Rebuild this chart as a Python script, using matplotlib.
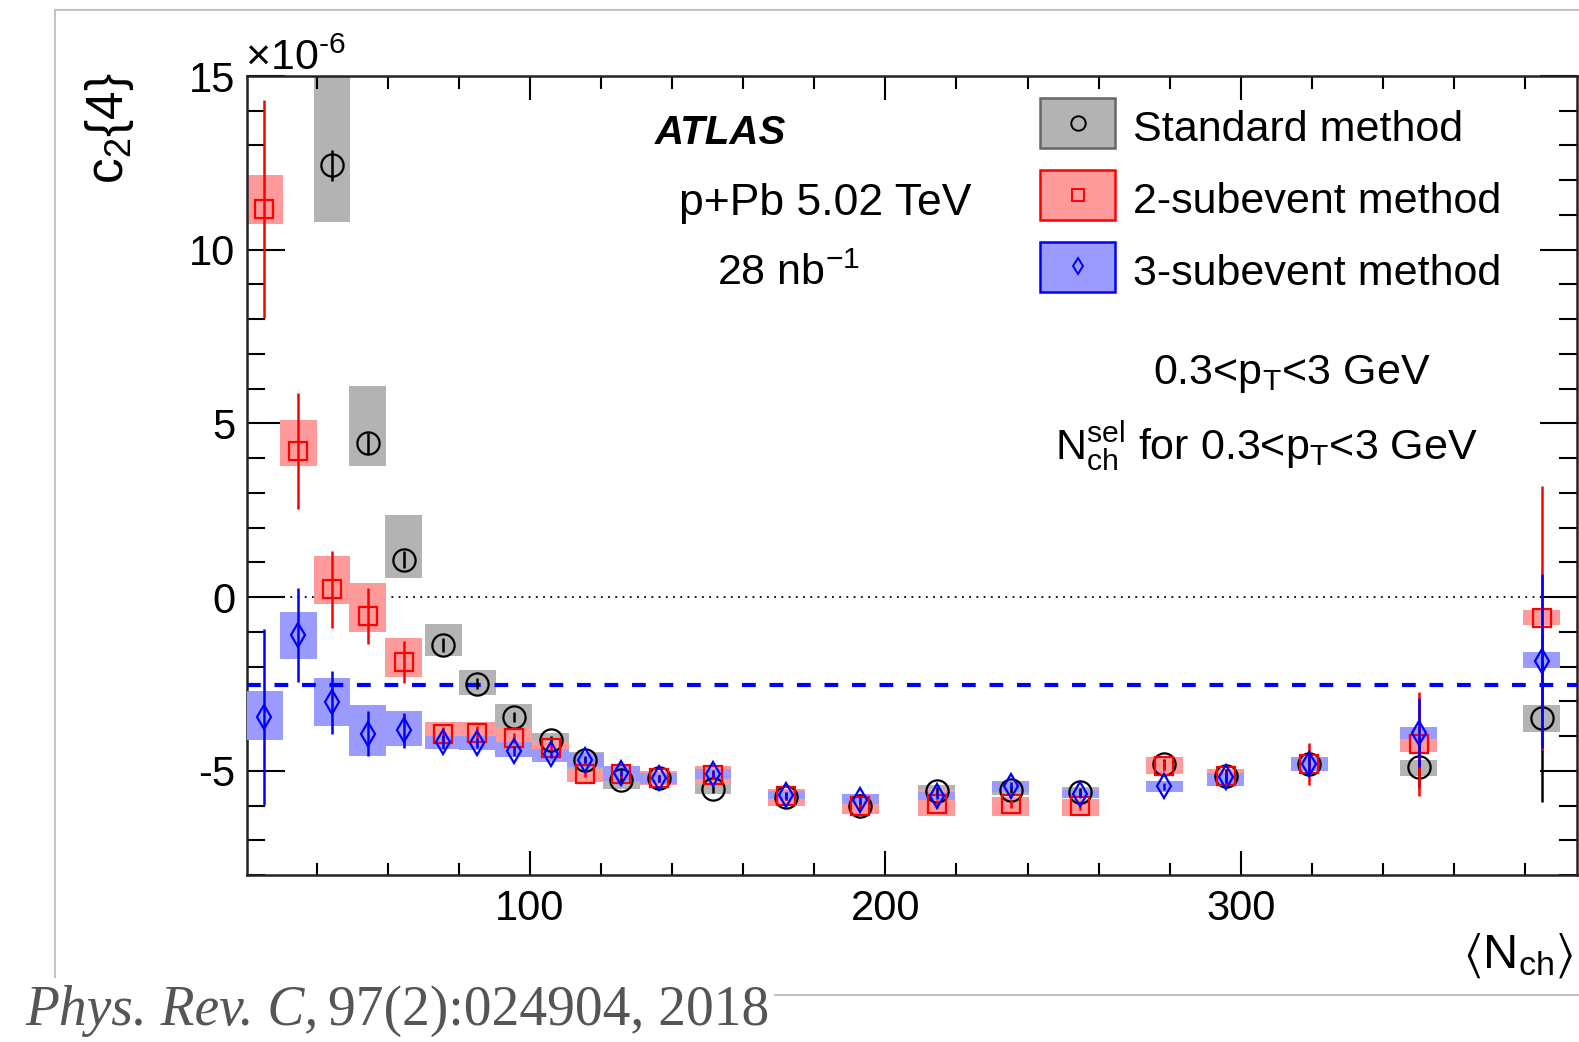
import numpy as np
import matplotlib
matplotlib.use("Agg")
import matplotlib.pyplot as plt
from matplotlib.patches import Rectangle
from matplotlib.lines import Line2D
from matplotlib.ticker import MultipleLocator

# <N_ch> bin centres
nch = [25.2, 34.8, 44.3, 54.4, 64.5, 75.6, 85.2, 95.4, 105.8, 115.6, 125.7, 136.2,
       151.5, 172.1, 192.9, 214.4, 235.3, 254.8, 278.4, 295.8, 319.2, 350.1, 384.6]

# standard method (x1e-6)
std_val = [np.nan, np.nan, 12.43, 4.43, 1.08, -1.38, -2.49, -3.45, -4.12, -4.69, -5.26, -5.22,
           -5.53, -5.75, -6.02, -5.57, -5.55, -5.62, -4.80, -5.14, -4.81, -4.90, -3.47]
std_stat = [np.nan, np.nan, 0.45, 0.3, 0.25, 0.2, 0.15, 0.15, 0.12, 0.1, 0.1, 0.1,
            0.1, 0.1, 0.1, 0.1, 0.1, 0.12, 0.15, 0.2, 0.3, 0.6, 2.44]
std_sys_dn = [np.nan, np.nan, 1.63, 0.67, 0.52, 0.32, 0.33, 0.35, 0.26, 0.3, 0.27, 0.15,
              0.14, 0.15, 0.15, 0.15, 0.15, 0.15, 0.15, 0.15, 0.2, 0.26, 0.42]
std_sys_up = [np.nan, np.nan, 2.8, 1.65, 1.27, 0.6, 0.39, 0.37, 0.22, 0.22, 0.22, 0.15,
              0.2, 0.15, 0.15, 0.15, 0.15, 0.15, 0.15, 0.15, 0.2, 0.22, 0.35]

# 2-subevent method
sub2_val = [11.17, 4.20, 0.22, -0.55, -1.86, -3.95, -3.90, -4.05, -4.33, -5.09, -5.10, -5.22,
            -5.13, -5.72, -6.00, -5.96, -5.96, -6.00, -4.85, -5.16, -4.81, -4.23, -0.59]
sub2_stat = [3.13, 1.67, 1.1, 0.8, 0.6, 0.2, 0.2, 0.15, 0.12, 0.1, 0.1, 0.1,
             0.12, 0.12, 0.12, 0.12, 0.12, 0.12, 0.15, 0.15, 0.6, 1.5, 3.8]
sub2_sys_dn = [0.44, 0.44, 0.43, 0.45, 0.44, 0.25, 0.25, 0.25, 0.2, 0.24, 0.2, 0.2,
               0.25, 0.28, 0.24, 0.33, 0.33, 0.3, 0.25, 0.2, 0.2, 0.24, 0.22]
sub2_sys_up = [0.98, 0.9, 0.96, 0.96, 0.69, 0.34, 0.3, 0.3, 0.2, 0.14, 0.2, 0.2,
               0.27, 0.19, 0.28, 0.43, 0.2, 0.2, 0.25, 0.2, 0.2, 0.23, 0.22]

# 3-subevent method
sub3_val = [-3.45, -1.09, -3.03, -3.93, -3.83, -4.18, -4.20, -4.43, -4.52, -4.68, -5.05, -5.22,
            -5.09, -5.70, -5.85, -5.72, -5.43, -5.67, -5.45, -5.19, -4.81, -3.90, -1.84]
sub3_stat = [2.53, 1.34, 0.9, 0.65, 0.5, 0.2, 0.15, 0.15, 0.12, 0.1, 0.1, 0.1,
             0.1, 0.1, 0.1, 0.1, 0.1, 0.1, 0.1, 0.15, 0.3, 1.0, 2.5]
sub3_sys_dn = [0.67, 0.7, 0.69, 0.64, 0.45, 0.2, 0.2, 0.18, 0.23, 0.2, 0.25, 0.15,
               0.15, 0.12, 0.11, 0.12, 0.19, 0.12, 0.17, 0.26, 0.2, 0.19, 0.2]
sub3_sys_up = [0.75, 0.67, 0.69, 0.82, 0.55, 0.18, 0.2, 0.25, 0.14, 0.2, 0.2, 0.15,
               0.14, 0.13, 0.18, 0.12, 0.14, 0.12, 0.16, 0.12, 0.2, 0.15, 0.25]

dashed_level = -2.54
labels = ["Standard method", "2-subevent method", "3-subevent method"]

plt.rcParams["font.family"] = ["Liberation Sans", "DejaVu Sans"]
plt.rcParams["mathtext.fontset"] = "custom"
plt.rcParams["mathtext.rm"] = "Liberation Sans"
plt.rcParams["mathtext.it"] = "Liberation Sans:italic"
plt.rcParams["mathtext.bf"] = "Liberation Sans:bold"
plt.rcParams["mathtext.default"] = "regular"
plt.rcParams["axes.unicode_minus"] = False

W, H = 1579, 1042
fig = plt.figure(figsize=(W / 100, H / 100), dpi=100)
ax = fig.add_axes([246.7 / W, 1 - 875 / H, (1576.7 - 246.7) / W, (875 - 76) / H])


def fxy(px, py):
    return px / W, 1 - py / H


series = [
    (std_val, std_stat, std_sys_dn, std_sys_up, "#b3b3b3", "black", "o", 16),
    (sub2_val, sub2_stat, sub2_sys_dn, sub2_sys_up, "#ff9a9a", "red", "s", 12.5),
    (sub3_val, sub3_stat, sub3_sys_dn, sub3_sys_up, "#9a9aff", "blue", "d", 12),
]

bw = 10.4
for k, (val, stat, dn, up, fc, col, mk, ms) in enumerate(series):
    for x, v, d, u in zip(nch, val, dn, up):
        if np.isnan(v):
            continue
        ax.add_patch(Rectangle((x - bw / 2, v - d), bw, d + u, fc=fc, ec="none", zorder=1 + k))

ax.axhline(0, color="black", lw=1.3, ls=(0, (1, 3)), zorder=0.5)
ax.axhline(dashed_level, color="blue", lw=3, ls=(0, (3.3, 3.3)), zorder=4)

for k, (val, stat, dn, up, fc, col, mk, ms) in enumerate(series):
    ax.errorbar(nch, val, yerr=stat, fmt="none", ecolor=col, elinewidth=1.8, capsize=0, zorder=5 + k)
    ax.plot(nch, val, ls="none", marker=mk, ms=ms, mfc="none", mec=col, mew=1.6, zorder=6 + k)

ax.set_xlim(20.3, 394.5)
ax.set_ylim(-8, 15)
ax.xaxis.set_major_locator(MultipleLocator(100))
ax.xaxis.set_minor_locator(MultipleLocator(20))
ax.yaxis.set_major_locator(MultipleLocator(5))
ax.yaxis.set_minor_locator(MultipleLocator(1))
ax.tick_params(which="both", direction="in", top=True, right=True, width=1.5, labelsize=30)
ax.xaxis.set_tick_params(which="major", length=17, pad=10)
ax.xaxis.set_tick_params(which="minor", length=9)
ax.yaxis.set_tick_params(which="major", length=27, pad=8)
ax.yaxis.set_tick_params(which="minor", length=13)
for s in ax.spines.values():
    s.set_linewidth(1.8)
    s.set_color("#222222")

# labels
fig.text(*fxy(110, 128), "c$_2${4}", rotation=90, ha="center", va="center", fontsize=37)
fig.text(*fxy(245, 70), "$\\times$10$^{\u2010 6}$", ha="left", va="baseline", fontsize=31)
fig.text(*fxy(1573, 968), "$\\langle$N$_{ch}$$\\rangle$", ha="right", va="baseline", fontsize=35)

fig.text(*fxy(721, 144), "ATLAS", ha="center", va="baseline", fontsize=29,
         fontweight="bold", fontstyle="italic")
fig.text(*fxy(825, 215), "p+Pb 5.02 TeV", ha="center", va="baseline", fontsize=32)
fig.text(*fxy(788, 285), "28 nb$^{-1}$", ha="center", va="baseline", fontsize=31)
fig.text(*fxy(1292, 384), "0.3<p$_T$<3 GeV", ha="center", va="baseline", fontsize=31)
fig.text(*fxy(1266, 459), "N$_{ch}^{sel}$ for 0.3<p$_T$<3 GeV", ha="center", va="baseline",
         fontsize=31)

# legend
leg_y = [97.5, 169.5, 241.5]
leg_base = [141, 213, 285]
for k, (val, stat, dn, up, fc, col, mk, ms) in enumerate(series):
    ec = "#666666" if k == 0 else col
    x0, y0 = fxy(1040, leg_y[k] + 50)
    fig.add_artist(Rectangle((x0, y0), 75 / W, 50 / H, transform=fig.transFigure,
                             fc=fc, ec=ec, lw=1.8))
    cx, cy = fxy(1077.5, leg_y[k] + 25)
    fig.add_artist(Line2D([cx], [cy], transform=fig.transFigure, marker=mk, ms=ms * 0.65,
                          mfc="none", mec=col, mew=1.4, ls="none"))
    fig.text(*fxy(1133, leg_base[k]), labels[k], ha="left", va="baseline", fontsize=31)

# image frame and citation
fc_ = "#c4c4c4"
fig.add_artist(Line2D([55 / W, 55 / W], [1 - 10 / H, 1 - 977 / H], transform=fig.transFigure, color=fc_, lw=1.5))
fig.add_artist(Line2D([55 / W, 1], [1 - 10 / H, 1 - 10 / H], transform=fig.transFigure, color=fc_, lw=1.5))
fig.add_artist(Line2D([775 / W, 1], [1 - 995 / H, 1 - 995 / H], transform=fig.transFigure, color=fc_, lw=1.5))

t1 = fig.text(*fxy(25, 1025), "Phys. Rev. C,", ha="left", va="baseline", fontsize=40,
              family="Liberation Serif", fontstyle="italic", color="#555555")
fig.canvas.draw()
bb = t1.get_window_extent()
fig.text((bb.x1 + 10) / W, 1 - 1025 / H, "97(2):024904, 2018", ha="left", va="baseline",
         fontsize=40, family="Liberation Serif", color="#555555")

fig.savefig("out.png", dpi=100)
